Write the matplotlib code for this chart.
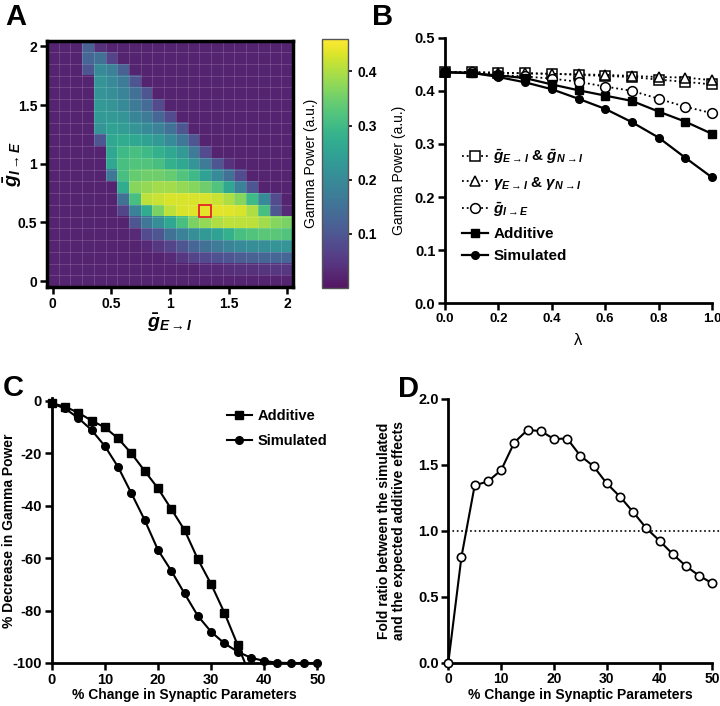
import numpy as np
import matplotlib
matplotlib.use("Agg")
import matplotlib.pyplot as plt
from matplotlib.colors import ListedColormap
from matplotlib.patches import Rectangle
from matplotlib.lines import Line2D

plt.rcParams['font.family'] = ['Liberation Sans', 'DejaVu Sans']
plt.rcParams['font.weight'] = 'bold'
plt.rcParams['axes.labelweight'] = 'bold'
plt.rcParams['axes.unicode_minus'] = False
plt.rcParams['mathtext.fontset'] = 'custom'
plt.rcParams['mathtext.rm'] = 'Liberation Sans:bold'
plt.rcParams['mathtext.it'] = 'Liberation Sans:italic:bold'
plt.rcParams['mathtext.bf'] = 'Liberation Sans:bold'

# ---------------- Panel A data: gamma power grid (rows: g_I->E = 0..2, cols: g_E->I = 0..2)
g_ticks = [0, 0.5, 1, 1.5, 2]
g_tick_labels = ['0', '0.5', '1', '1.5', '2']
cbar_ticks = [0.1, 0.2, 0.3, 0.4]
marked_gEI = 1.3
marked_gIE = 0.6

row_00 = [.02, .02, .02, .02, .02, .02, .02, .02, .02, .02, .02, .02, .02, .02, .02, .02, .02, .02, .02, .02, .02]
row_01 = [.02, .02, .02, .02, .02, .02, .02, .02, .02, .02, .02, .02, .02, .03, .03, .035, .04, .04, .045, .05, .05]
row_02 = [.02, .02, .02, .02, .02, .02, .02, .02, .02, .02, .03, .05, .07, .08, .09, .10, .11, .12, .13, .13, .13]
row_03 = [.02, .02, .02, .02, .02, .02, .02, .02, .03, .05, .07, .10, .13, .15, .17, .19, .20, .21, .21, .22, .22]
row_04 = [.02, .02, .02, .02, .02, .02, .02, .03, .08, .10, .15, .18, .21, .23, .25, .28, .31, .32, .33, .33, .32]
row_05 = [.02, .02, .02, .02, .02, .02, .02, .10, .16, .21, .26, .31, .36, .38, .40, .41, .41, .41, .39, .37, .36]
row_06 = [.02, .02, .02, .02, .02, .02, .07, .18, .27, .36, .41, .43, .435, .44, .44, .435, .43, .40, .31, .10, .03]
row_07 = [.02, .02, .02, .02, .02, .02, .15, .31, .41, .42, .43, .43, .43, .43, .42, .40, .37, .30, .20, .08, .02]
row_08 = [.02, .02, .02, .02, .02, .02, .27, .37, .38, .39, .39, .38, .37, .35, .32, .26, .18, .10, .02, .02, .02]
row_09 = [.02, .02, .02, .02, .02, .16, .31, .34, .35, .35, .34, .32, .30, .25, .20, .15, .08, .02, .02, .02, .02]
row_10 = [.02, .02, .02, .02, .02, .26, .31, .32, .32, .31, .28, .26, .22, .17, .10, .04, .02, .02, .02, .02, .02]
row_11 = [.02, .02, .02, .02, .02, .26, .30, .31, .30, .28, .26, .23, .17, .08, .02, .02, .02, .02, .02, .02, .02]
row_12 = [.02, .02, .02, .02, .10, .26, .27, .26, .25, .23, .20, .16, .10, .02, .02, .02, .02, .02, .02, .02, .02]
row_13 = [.02, .02, .02, .02, .22, .25, .24, .22, .20, .18, .15, .10, .02, .02, .02, .02, .02, .02, .02, .02, .02]
row_14 = [.02, .02, .02, .02, .23, .23, .22, .19, .17, .13, .08, .02, .02, .02, .02, .02, .02, .02, .02, .02, .02]
row_15 = [.02, .02, .02, .02, .23, .22, .20, .17, .14, .08, .02, .02, .02, .02, .02, .02, .02, .02, .02, .02, .02]
row_16 = [.02, .02, .02, .02, .22, .21, .19, .15, .10, .02, .02, .02, .02, .02, .02, .02, .02, .02, .02, .02, .02]
row_17 = [.02, .02, .02, .02, .22, .20, .17, .10, .02, .02, .02, .02, .02, .02, .02, .02, .02, .02, .02, .02, .02]
row_18 = [.02, .02, .02, .10, .20, .18, .12, .02, .02, .02, .02, .02, .02, .02, .02, .02, .02, .02, .02, .02, .02]
row_19 = [.02, .02, .02, .13, .15, .07, .02, .02, .02, .02, .02, .02, .02, .02, .02, .02, .02, .02, .02, .02, .02]
row_20 = [.02, .02, .02, .12, .04, .02, .02, .02, .02, .02, .02, .02, .02, .02, .02, .02, .02, .02, .02, .02, .02]

# ---------------- Panel B data
lam = [0.0, 0.1, 0.2, 0.3, 0.4, 0.5, 0.6, 0.7, 0.8, 0.9, 1.0]
gp_gEI_gNI = [0.435, 0.435, 0.434, 0.433, 0.432, 0.430, 0.428, 0.426, 0.421, 0.417, 0.412]
gp_tauEI_tauNI = [0.435, 0.435, 0.434, 0.433, 0.432, 0.431, 0.430, 0.428, 0.426, 0.425, 0.420]
gp_gIE = [0.435, 0.435, 0.430, 0.427, 0.423, 0.417, 0.408, 0.400, 0.385, 0.370, 0.358]
gp_additive = [0.435, 0.433, 0.429, 0.424, 0.412, 0.401, 0.391, 0.381, 0.361, 0.342, 0.319]
gp_simulated = [0.435, 0.434, 0.426, 0.416, 0.403, 0.385, 0.366, 0.341, 0.312, 0.274, 0.237]
b_labels = [r'$\bar{g}_{E\rightarrow I}$ & $\bar{g}_{N\rightarrow I}$',
            r'$\gamma_{E\rightarrow I}$ & $\gamma_{N\rightarrow I}$',
            r'$\bar{g}_{I\rightarrow E}$', 'Additive', 'Simulated']

# ---------------- Panel C data
pct_change = [0, 2.5, 5, 7.5, 10, 12.5, 15, 17.5, 20, 22.5, 25, 27.5, 30, 32.5, 35,
              37.5, 40, 42.5, 45, 47.5, 50]
c_additive_x = [0, 2.5, 5, 7.5, 10, 12.5, 15, 17.5, 20, 22.5, 25, 27.5, 30, 32.5, 35, 37.5]
c_additive = [-1.0, -2.3, -4.6, -7.6, -10.2, -14.4, -20.1, -26.8, -33.4, -41.3, -49.3,
              -60.4, -69.9, -80.8, -93.1, -105.5]
c_simulated = [-1.0, -3.0, -6.6, -11.2, -17.3, -25.3, -35.3, -45.5, -56.9, -64.8, -73.5,
               -82.0, -88.1, -92.5, -95.7, -98.0, -99.2, -99.9, -100, -100, -100]

# ---------------- Panel D data
fold_ratio = [0.0, 0.805, 1.345, 1.375, 1.46, 1.67, 1.765, 1.757, 1.697, 1.70, 1.57,
              1.49, 1.36, 1.26, 1.143, 1.02, 0.925, 0.824, 0.733, 0.66, 0.602]
ref_level = 1.0

W, H = 720, 706
fig = plt.figure(figsize=(W / 100, H / 100), dpi=100)


def fbox(x0, y0, x1, y1):
    return [x0 / W, 1 - y1 / H, (x1 - x0) / W, (y1 - y0) / H]


def style_axes(ax, lw=2.0):
    for s in ['top', 'right']:
        ax.spines[s].set_visible(False)
    for s in ['left', 'bottom']:
        ax.spines[s].set_linewidth(lw)
    ax.tick_params(direction='out', length=5, width=1.8, labelsize=10.5, pad=2)


def ylabel_at(ax, x_px, ax_left_px, ax_width_px):
    ax.yaxis.set_label_coords((x_px - ax_left_px) / ax_width_px, 0.5)


# ---------------- Panel A
grid = np.array([row_00, row_01, row_02, row_03, row_04, row_05, row_06, row_07, row_08, row_09,
                 row_10, row_11, row_12, row_13, row_14, row_15, row_16, row_17, row_18, row_19, row_20])
vir = plt.get_cmap('viridis')(np.linspace(0, 1, 256))
cmap = ListedColormap(vir * 0.92 + 0.08)

axA = fig.add_axes(fbox(47, 40.5, 293, 287))
n = grid.shape[0]
step = (g_ticks[-1] - g_ticks[0]) / (n - 1)
ext = (-step / 2, 2 + step / 2, -step / 2, 2 + step / 2)
im = axA.imshow(grid, origin='lower', extent=ext, cmap=cmap, vmin=0, vmax=0.46,
                aspect='auto', interpolation='nearest')
for k in range(1, n):
    b = -step / 2 + k * step
    axA.axvline(b, color='white', alpha=0.15, lw=0.7)
    axA.axhline(b, color='white', alpha=0.15, lw=0.7)
axA.add_patch(Rectangle((marked_gEI - step / 2, marked_gIE - step / 2), step, step,
                        fill=False, edgecolor='#e8202a', lw=1.3, zorder=5))
axA.set_xticks(g_ticks)
axA.set_xticklabels(g_tick_labels)
axA.set_yticks(g_ticks)
axA.set_yticklabels(g_tick_labels)
for s in axA.spines.values():
    s.set_linewidth(2.5)
axA.tick_params(direction='out', length=5, width=1.8, labelsize=10, pad=2)
axA.set_xlabel(r'$\bar{g}_{E\rightarrow I}$', fontsize=14, labelpad=1)
axA.set_ylabel(r'$\bar{g}_{I\rightarrow E}$', fontsize=14)
ylabel_at(axA, 24, 47, 246)

cax = fig.add_axes(fbox(322, 39, 348, 288))
cb = fig.colorbar(im, cax=cax, ticks=cbar_ticks)
cb.outline.set_linewidth(1.0)
cb.outline.set_edgecolor('#555555')
cax.tick_params(labelsize=10, length=3, width=1.2)
cax.yaxis.set_label_position('left')
cb.set_label('Gamma Power (a.u.)', fontsize=10, fontweight='normal', labelpad=3)

# ---------------- Panel B
axB = fig.add_axes(fbox(445, 37.7, 712, 303.3))
style_axes(axB)
mk = dict(color='black', clip_on=False)
axB.plot(lam, gp_gEI_gNI, ls=':', lw=1.3, marker='s', ms=7, mfc='white', mec='black', mew=1.1, **mk)
axB.plot(lam, gp_tauEI_tauNI, ls=':', lw=1.3, marker='^', ms=7, mfc='white', mec='black', mew=1.1, **mk)
axB.plot(lam, gp_gIE, ls=':', lw=1.3, marker='o', ms=7, mfc='white', mec='black', mew=1.1, **mk)
axB.plot(lam, gp_additive, ls='-', lw=1.6, marker='s', ms=5.5, mfc='black', **mk)
axB.plot(lam, gp_simulated, ls='-', lw=1.6, marker='o', ms=5.5, mfc='black', **mk)
axB.set_xlim(0, 1)
axB.set_ylim(0, 0.5)
axB.set_xticks([0.0, 0.2, 0.4, 0.6, 0.8, 1.0])
axB.set_xticklabels(['0.0', '0.2', '0.4', '0.6', '0.8', '1.0'])
axB.set_yticks([0.0, 0.1, 0.2, 0.3, 0.4, 0.5])
axB.set_yticklabels(['0.0', '0.1', '0.2', '0.3', '0.4', '0.5'])
axB.tick_params(axis='x', labelsize=9.5)
axB.set_ylabel('Gamma Power (a.u.)', fontsize=10, fontweight='normal', labelpad=6)
axB.set_xlabel('λ', fontsize=12, fontweight='normal', labelpad=6)
handles = [
    Line2D([], [], color='black', ls=':', lw=1.3, marker='s', ms=7, mfc='white', mew=1.1),
    Line2D([], [], color='black', ls=':', lw=1.3, marker='^', ms=7, mfc='white', mew=1.1),
    Line2D([], [], color='black', ls=':', lw=1.3, marker='o', ms=7, mfc='white', mew=1.1),
    Line2D([], [], color='black', ls='-', lw=1.6, marker='s', ms=5.5),
    Line2D([], [], color='black', ls='-', lw=1.6, marker='o', ms=5.5),
]
axB.legend(handles, b_labels, loc='upper left', bbox_to_anchor=(456 / W, 1 - 142 / H),
           bbox_transform=fig.transFigure, frameon=False, fontsize=11,
           handlelength=1.7, handletextpad=0.35, labelspacing=0.55, borderaxespad=0)

# ---------------- Panel C
axC = fig.add_axes(fbox(51.7, 398, 317.3, 663))
style_axes(axC)
axC.plot(c_additive_x, c_additive, color='black', lw=1.5, clip_on=True)
add_vis = np.ma.masked_less(np.array(c_additive), -100)
axC.plot(c_additive_x, add_vis, ls='none', marker='s', ms=5.5, color='black', clip_on=False)
axC.plot(pct_change, c_simulated, color='black', lw=1.5, marker='o', ms=5.5, clip_on=False)
axC.set_xlim(0, 50)
axC.set_ylim(-100, 1)
axC.set_xticks([0, 10, 20, 30, 40, 50])
axC.set_yticks([0, -20, -40, -60, -80, -100])
axC.set_xlabel('% Change in Synaptic Parameters', fontsize=10, labelpad=1)
axC.set_ylabel('% Decrease in Gamma Power', fontsize=10)
ylabel_at(axC, 16, 51.7, 265.6)
hC = [Line2D([], [], color='black', lw=1.5, marker='s', ms=5.5),
      Line2D([], [], color='black', lw=1.5, marker='o', ms=5.5)]
axC.legend(hC, ['Additive', 'Simulated'], loc='upper left', bbox_to_anchor=(221 / W, 1 - 403 / H),
           bbox_transform=fig.transFigure, frameon=False, fontsize=10.5,
           handlelength=1.7, handletextpad=0.4, labelspacing=0.75, borderaxespad=0)

# ---------------- Panel D
axD = fig.add_axes(fbox(448.3, 399, 712.3, 662.7))
style_axes(axD)
axD.plot(pct_change, fold_ratio, color='black', lw=1.5, marker='o', ms=6, mfc='white',
         mec='black', mew=1.2, clip_on=False, zorder=4)
axD.plot([0, 51.5], [ref_level, ref_level], ls=':', color='black', lw=1.2, clip_on=False, zorder=2)
axD.set_xlim(0, 50)
axD.set_ylim(0, 2)
axD.set_xticks([0, 10, 20, 30, 40, 50])
axD.set_yticks([0.0, 0.5, 1.0, 1.5, 2.0])
axD.set_yticklabels(['0.0', '0.5', '1.0', '1.5', '2.0'])
axD.tick_params(axis='x', labelsize=10)
axD.set_xlabel('% Change in Synaptic Parameters', fontsize=10, labelpad=1)
axD.set_ylabel('Fold ratio between the simulated\nand the expected additive effects',
               fontsize=10, linespacing=1.05)
ylabel_at(axD, 406, 448.3, 264)

# ---------------- Panel letters
for lab, x, y in [('A', 5, 25), ('B', 372, 25), ('C', 3, 396), ('D', 398, 397)]:
    fig.text(x / W, 1 - y / H, lab, fontsize=21, fontweight='bold', ha='left', va='baseline')

fig.savefig('out.png', dpi=100)
